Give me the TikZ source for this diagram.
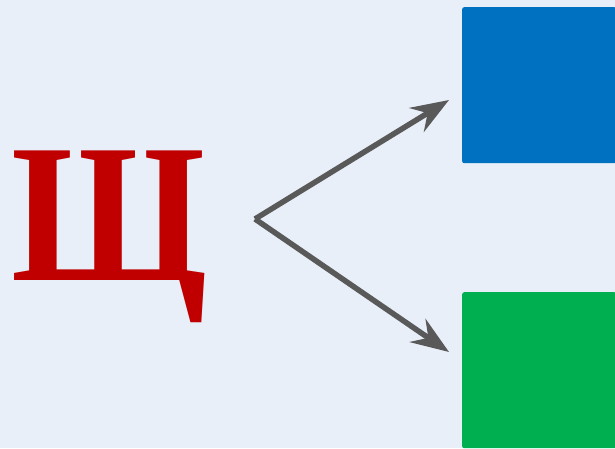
\documentclass[tikz,border=0pt]{standalone}
\usepackage{fontspec}
\setmainfont{Liberation Serif}
\usetikzlibrary{arrows.meta}
\definecolor{bgpale}{HTML}{E8EFF8}
\definecolor{letterred}{HTML}{C00000}
\definecolor{boxblue}{HTML}{0070C0}
\definecolor{boxgreen}{HTML}{00B050}
\definecolor{arrowgray}{HTML}{595959}
\tikzset{
  box/.style={rectangle, rounded corners=2pt, inner sep=0pt, minimum width=154pt, minimum height=156pt, anchor=north west},
  arr/.style={draw=arrowgray, line width=5.5pt, -{Stealth[length=38pt, width=28pt, inset=13pt]}}
}
\begin{document}
\begin{tikzpicture}[x=1pt, y=-1pt]
  \fill[bgpale] (0,0) rectangle (615,448);
  \useasboundingbox (0,0) rectangle (615,448);
  \begin{scope}
    \clip (0,0) rectangle (615,448);
    \node[box, fill=boxblue] (blue) at (462,7) {};
    \node[box, fill=boxgreen] (green) at (462,292) {};
  \end{scope}
  \node[anchor=base, inner sep=0pt, xscale=0.9, transform shape, text=letterred, font=\fontsize{198}{198}\bfseries\selectfont] (letter) at (109,280) {Щ};
  \coordinate (fork) at (255,219);
  \coordinate (up) at (449,100);
  \coordinate (down) at (449,352);
  \draw[arr] (fork) -- (up);
  \draw[arr] (fork) -- (down);
\end{tikzpicture}
\end{document}
